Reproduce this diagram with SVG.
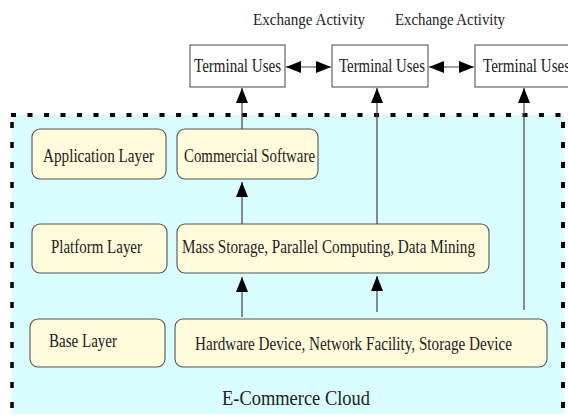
<svg xmlns="http://www.w3.org/2000/svg" width="568" height="416" viewBox="0 0 568 416">
<style>
text{font-family:"Liberation Serif","Times New Roman",serif;fill:#222;}
.t{font-size:19px;}
.lbl{font-size:17px;}
.layer{fill:#fffbdb;stroke:#555;stroke-width:1.1;}
.term{fill:#fff;stroke:#555;stroke-width:1.1;}
.con{stroke:#444;stroke-width:1.2;fill:none;}
.dash{stroke:#000;fill:none;}
</style>
<defs>
<marker id="ah" markerUnits="userSpaceOnUse" markerWidth="15" markerHeight="12" refX="15" refY="6" orient="auto-start-reverse">
<path d="M0,0 L15,6 L0,12 z" fill="#000"/>
</marker>
</defs>
<rect width="568" height="416" fill="#fff"/>
<g id="cloud">
<rect x="12" y="115" width="552" height="299" fill="#d9fcff"/>
<line class="dash" x1="11" y1="115" x2="566" y2="115" stroke-width="4" stroke-dasharray="5 11.5"/>
<line class="dash" x1="12" y1="122" x2="12" y2="414" stroke-width="3.5" stroke-dasharray="6 14"/>
<line class="dash" x1="563" y1="122" x2="563" y2="414" stroke-width="4" stroke-dasharray="6 14"/>
<text x="222" y="405" font-size="21" textLength="148" lengthAdjust="spacingAndGlyphs">E-Commerce Cloud</text>
</g>
<g id="ex1"><text class="lbl" x="253" y="25" textLength="112" lengthAdjust="spacingAndGlyphs">Exchange Activity</text></g>
<g id="ex2"><text class="lbl" x="395" y="25" textLength="110" lengthAdjust="spacingAndGlyphs">Exchange Activity</text></g>
<g id="term1"><rect class="term" x="190" y="45" width="95" height="42"/><text class="t" x="194" y="72" textLength="87" lengthAdjust="spacingAndGlyphs">Terminal Uses</text></g>
<g id="term2"><rect class="term" x="332" y="45" width="96" height="42"/><text class="t" x="339" y="72" textLength="86" lengthAdjust="spacingAndGlyphs">Terminal Uses</text></g>
<g id="term3"><rect class="term" x="475" y="45" width="104" height="42"/><text class="t" x="483" y="72" textLength="87" lengthAdjust="spacingAndGlyphs">Terminal Uses</text></g>
<g id="app"><rect class="layer" x="32" y="129" width="134" height="50" rx="8"/><text class="t" x="43" y="162" textLength="111" lengthAdjust="spacingAndGlyphs">Application Layer</text></g>
<g id="soft"><rect class="layer" x="177" y="129" width="141" height="50" rx="8"/><text class="t" x="184" y="162" textLength="131" lengthAdjust="spacingAndGlyphs">Commercial Software</text></g>
<g id="plat"><rect class="layer" x="32" y="224" width="135" height="49" rx="8"/><text class="t" x="51" y="253" textLength="91" lengthAdjust="spacingAndGlyphs">Platform Layer</text></g>
<g id="mass"><rect class="layer" x="177" y="224" width="312" height="49" rx="8"/><text class="t" x="182" y="253" textLength="293" lengthAdjust="spacingAndGlyphs">Mass Storage, Parallel Computing, Data Mining</text></g>
<g id="base"><rect class="layer" x="30" y="319" width="135" height="48" rx="8"/><text class="t" x="49" y="347" textLength="68" lengthAdjust="spacingAndGlyphs">Base Layer</text></g>
<g id="hw"><rect class="layer" x="175" y="319" width="372" height="48" rx="8"/><text class="t" x="195" y="350" textLength="317" lengthAdjust="spacingAndGlyphs">Hardware Device, Network Facility, Storage Device</text></g>
<g id="connectors">
<line class="con" x1="286" y1="67" x2="331" y2="67" marker-start="url(#ah)" marker-end="url(#ah)"/>
<line class="con" x1="429" y1="67" x2="474" y2="67" marker-start="url(#ah)" marker-end="url(#ah)"/>
<line class="con" x1="242" y1="129" x2="242" y2="88" marker-end="url(#ah)"/>
<line class="con" x1="377" y1="224" x2="377" y2="88" marker-end="url(#ah)"/>
<line class="con" x1="524" y1="310" x2="524" y2="88" marker-end="url(#ah)"/>
<line class="con" x1="242" y1="224" x2="242" y2="182" marker-end="url(#ah)"/>
<line class="con" x1="242" y1="317" x2="242" y2="277" marker-end="url(#ah)"/>
<line class="con" x1="377" y1="312" x2="377" y2="276" marker-end="url(#ah)"/>
</g>
</svg>
